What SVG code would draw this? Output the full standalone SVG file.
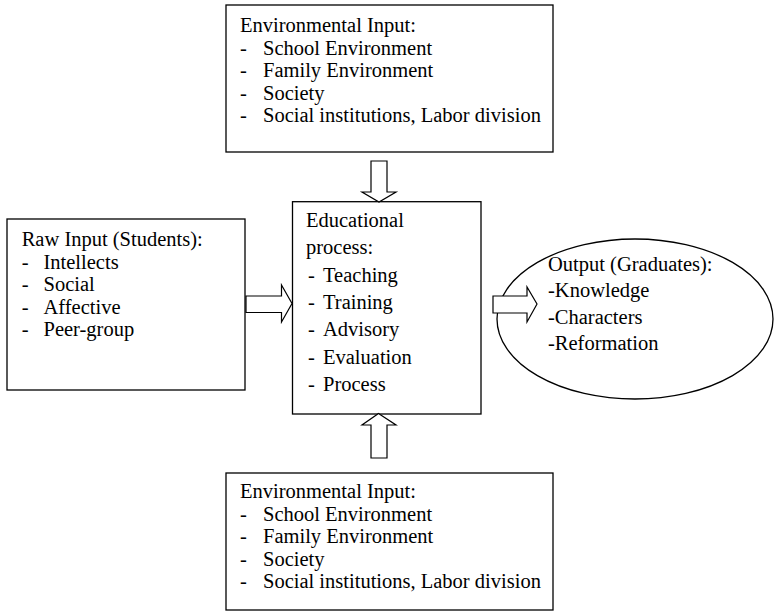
<svg xmlns="http://www.w3.org/2000/svg" width="774" height="615" viewBox="0 0 774 615">
<style>
.box{fill:#fff;stroke:#000;stroke-width:1.3}
.arr{fill:#fff;stroke:#000;stroke-width:1.2;stroke-linejoin:miter}
text{font-family:'Liberation Serif','Tinos','Times New Roman','DejaVu Serif','Noto Serif',serif;font-size:20.5px;fill:#000}
</style>
<rect width="774" height="615" fill="#fff"/>
<g id="env-top">
<rect class="box" x="226" y="5" width="327" height="147"/>
<text x="240" y="32">Environmental Input:</text>
<text x="240" y="54.5">-</text><text x="263" y="54.5">School Environment</text>
<text x="240" y="77">-</text><text x="263" y="77">Family Environment</text>
<text x="240" y="99.5">-</text><text x="263" y="99.5">Society</text>
<text x="240" y="122">-</text><text x="263" y="122">Social institutions, Labor division</text>
</g>
<g id="raw-input">
<rect class="box" x="7" y="219" width="238" height="171"/>
<text x="21.7" y="246">Raw Input (Students):</text>
<text x="21.7" y="268.5">-</text><text x="43.5" y="268.5">Intellects</text>
<text x="21.7" y="291">-</text><text x="43.5" y="291">Social</text>
<text x="21.7" y="313.5">-</text><text x="43.5" y="313.5">Affective</text>
<text x="21.7" y="336">-</text><text x="43.5" y="336">Peer-group</text>
</g>
<g id="edu-process">
<rect class="box" x="292.5" y="201.7" width="188.5" height="212.3"/>
<text x="306" y="227">Educational</text>
<text x="306" y="254.3">process:</text>
<text x="308" y="281.6">-</text><text x="323" y="281.6">Teaching</text>
<text x="308" y="309">-</text><text x="323" y="309">Training</text>
<text x="308" y="336.2">-</text><text x="323" y="336.2">Advisory</text>
<text x="308" y="363.5">-</text><text x="323" y="363.5">Evaluation</text>
<text x="308" y="390.8">-</text><text x="323" y="390.8">Process</text>
</g>
<g id="output">
<ellipse class="box" cx="635" cy="319" rx="138" ry="80"/>
<text x="548" y="270.5">Output (Graduates):</text>
<text x="548" y="297">-Knowledge</text>
<text x="548" y="323.5">-Characters</text>
<text x="548" y="350">-Reformation</text>
</g>
<g id="env-bottom">
<rect class="box" x="226" y="473" width="327" height="137"/>
<text x="240" y="498">Environmental Input:</text>
<text x="240" y="520.5">-</text><text x="263" y="520.5">School Environment</text>
<text x="240" y="543">-</text><text x="263" y="543">Family Environment</text>
<text x="240" y="565.5">-</text><text x="263" y="565.5">Society</text>
<text x="240" y="588">-</text><text x="263" y="588">Social institutions, Labor division</text>
</g>
<g id="connectors">
<polygon class="arr" points="371,161 387,161 387,192 396,192 379,202 362,192 371,192"/>
<polygon class="arr" points="246,296 281.5,296 281.5,285 292,303.5 281.5,322 281.5,312.5 246,312.5"/>
<polygon class="arr" points="493,296 527,296 527,287 537,304 527,322 527,313 493,313"/>
<polygon class="arr" points="378.5,413.5 396,425 387,425 387,458 371,458 371,425 362,425"/>
</g>
</svg>
